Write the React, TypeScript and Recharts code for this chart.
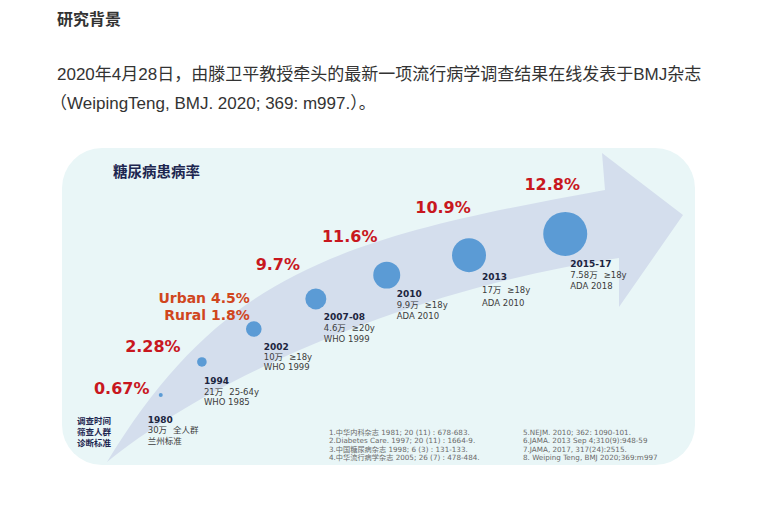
import React from 'react'
import { ScatterChart, Scatter, XAxis, YAxis, ZAxis } from 'recharts'

const periods = ['1980', '1994', '2002', '2007-08', '2010', '2013', '2015-17']
// diabetes prevalence (%) per survey; for 2002 the value is the urban rate
const prevalence = [0.67, 2.28, 4.5, 9.7, 11.6, 10.9, 12.8]
const rural2002 = 1.8
const samples = ['30万', '21万', '10万', '4.6万', '9.9万', '17万', '7.58万']
const ages = ['全人群', '25-64y', '≥18y', '≥20y', '≥18y', '≥18y', '≥18y']
const criteria = ['兰州标准', 'WHO 1985', 'WHO 1999', 'WHO 1999', 'ADA 2010', 'ADA 2010', 'ADA 2018']
// where each survey sits along the arrow (0-100 across / up the panel) and its bubble weight
const arrowPos = [15.6, 22.1, 30.3, 40.1, 51.3, 64.3, 79.5]
const arrowLift = [22.1, 32.5, 42.9, 52.4, 59.9, 66.2, 72.9]
const bubbleWeight = [4, 23, 61, 110, 182, 289, 484]

const rowLabels = ['调查时间', '筛查人群', '诊断标准']
const refsLeft = [
  '1.中华内科杂志 1981; 20 (11) : 678-683.',
  '2.Diabetes Care. 1997; 20 (11) : 1664-9.',
  '3.中国糖尿病杂志 1998; 6 (3) : 131-133.',
  '4.中华流行病学杂志 2005; 26 (7) : 478-484.',
]
const refsRight = [
  '5.NEJM. 2010; 362: 1090-101.',
  '6.JAMA. 2013 Sep 4;310(9):948-59',
  '7.JAMA, 2017, 317(24):2515.',
  '8. Weiping Teng, BMJ 2020;369:m997',
]

const table = periods.map((p, i) => ({
  i,
  period: p,
  x: arrowPos[i],
  y: arrowLift[i],
  z: bubbleWeight[i],
  rate: prevalence[i],
}))

// label placement relative to the bubble (px)
const RATE_OFFSET = [[-39, -6], [-49, -15], [-4, -31], [-38, -34], [-37, -39], [-26, -48], [-13, -49]]
const NOTE_OFFSET = [[-13, 25], [2, 19], [10, 18], [8, 18], [10, 19], [13, 22], [5, 30]]
const NOTE_GAP = [10.5, 10.7, 10, 11, 11, 12.8, 11]

const LATIN = '"DejaVu Sans", "Noto Sans CJK SC", sans-serif'
const CJK = '"Noto Sans CJK SC", sans-serif'
const BODY = '"Liberation Sans", "Noto Sans CJK SC", sans-serif'

const RateLabel = (props: any) => {
  const { cx, cy, payload } = props
  const [dx, dy] = RATE_OFFSET[payload.i]
  if (payload.i === 2) {
    return (
      <g fontFamily={LATIN} fontWeight="bold" fontSize={14} fill="#d0461e" textAnchor="end">
        <text x={cx + dx} y={cy + dy} dominantBaseline="central">{`Urban ${payload.rate}%`}</text>
        <text x={cx + dx} y={cy + dy + 17} dominantBaseline="central">{`Rural ${rural2002}%`}</text>
      </g>
    )
  }
  return (
    <text x={cx + dx} y={cy + dy} dominantBaseline="central" textAnchor="middle"
      fontFamily={LATIN} fontWeight="bold" fontSize={16} fill="#c8171e">
      {`${payload.rate}%`}
    </text>
  )
}

const NoteLabel = (props: any) => {
  const { cx, cy, payload } = props
  const i = payload.i
  const [dx, dy] = NOTE_OFFSET[i]
  const gap = NOTE_GAP[i]
  const x = cx + dx
  return (
    <g fontFamily={LATIN}>
      <text x={x} y={cy + dy} dominantBaseline="central" fontSize={9} fontWeight="bold" fill="#1c2540">{payload.period}</text>
      <text x={x} y={cy + dy + gap} dominantBaseline="central" fontSize={8.5} fill="#3c3c3c">
        <tspan>{samples[i]}</tspan>
        <tspan dx={6}>{ages[i]}</tspan>
      </text>
      <text x={x} y={cy + dy + gap * 2} dominantBaseline="central" fontSize={8.5} fill="#3c3c3c">{criteria[i]}</text>
    </g>
  )
}

export default function App() {
  return (
    <div style={{ position: 'absolute', left: 0, top: 0, width: 761, height: 507, background: '#fff', overflow: 'hidden' }}>
      <div style={{ position: 'absolute', left: 57, top: 12, fontSize: 16, lineHeight: '16px', fontWeight: 'bold', color: '#333', fontFamily: BODY }}>
        研究背景
      </div>
      <div style={{ position: 'absolute', left: 57, top: 65.5, fontSize: 17, lineHeight: '17px', color: '#333', fontFamily: BODY, whiteSpace: 'nowrap' }}>
        2020年4月28日，由滕卫平教授牵头的最新一项流行病学调查结果在线发表于BMJ杂志
      </div>
      <div style={{ position: 'absolute', left: 50, top: 94.5, fontSize: 17, lineHeight: '17px', color: '#333', fontFamily: BODY, whiteSpace: 'nowrap' }}>
        （WeipingTeng, BMJ. 2020; 369: m997.）。
      </div>

      <svg width={761} height={507} style={{ position: 'absolute', left: 0, top: 0 }}>
        <rect x={62} y={148} width={633} height={317} rx={40} fill="#e9f6f7" />
        <path
          d="M107,462 C222,273 339,238 605,190 L602,153 L683,215 L619,307 L619,258 C430,285 220,370 107,462 Z"
          fill="#d4deed"
        />
        <text x={113} y={170} dominantBaseline="central" fontFamily={CJK} fontWeight="bold" fontSize={14.5} fill="#1d2650">
          糖尿病患病率
        </text>
        {rowLabels.map((t, k) => (
          <text key={t} x={77} y={420 + k * 10.8} dominantBaseline="central" fontFamily={CJK} fontWeight="bold" fontSize={8.5} fill="#1d2650">
            {t}
          </text>
        ))}
        {refsLeft.map((t, k) => (
          <text key={t} x={329} y={432 + k * 8.6} dominantBaseline="central" fontFamily={LATIN} fontSize={7.2} fill="#6a6a6a">
            {t}
          </text>
        ))}
        {refsRight.map((t, k) => (
          <text key={t} x={523} y={432 + k * 8.6} dominantBaseline="central" fontFamily={LATIN} fontSize={7.2} fill="#6a6a6a">
            {t}
          </text>
        ))}
      </svg>

      <div style={{ position: 'absolute', left: 62, top: 148 }}>
        <ScatterChart width={633} height={317} margin={{ top: 0, right: 0, bottom: 0, left: 0 }}>
          <XAxis type="number" dataKey="x" domain={[0, 100]} hide />
          <YAxis type="number" dataKey="y" domain={[0, 100]} hide />
          <ZAxis type="number" dataKey="z" domain={[0, 484]} range={[0, 484 * Math.PI]} />
          <Scatter data={table} fill="#5b9bd5" isAnimationActive={false} />
          <Scatter data={table} shape={RateLabel} isAnimationActive={false} />
          <Scatter data={table} shape={NoteLabel} isAnimationActive={false} />
        </ScatterChart>
      </div>
    </div>
  )
}
